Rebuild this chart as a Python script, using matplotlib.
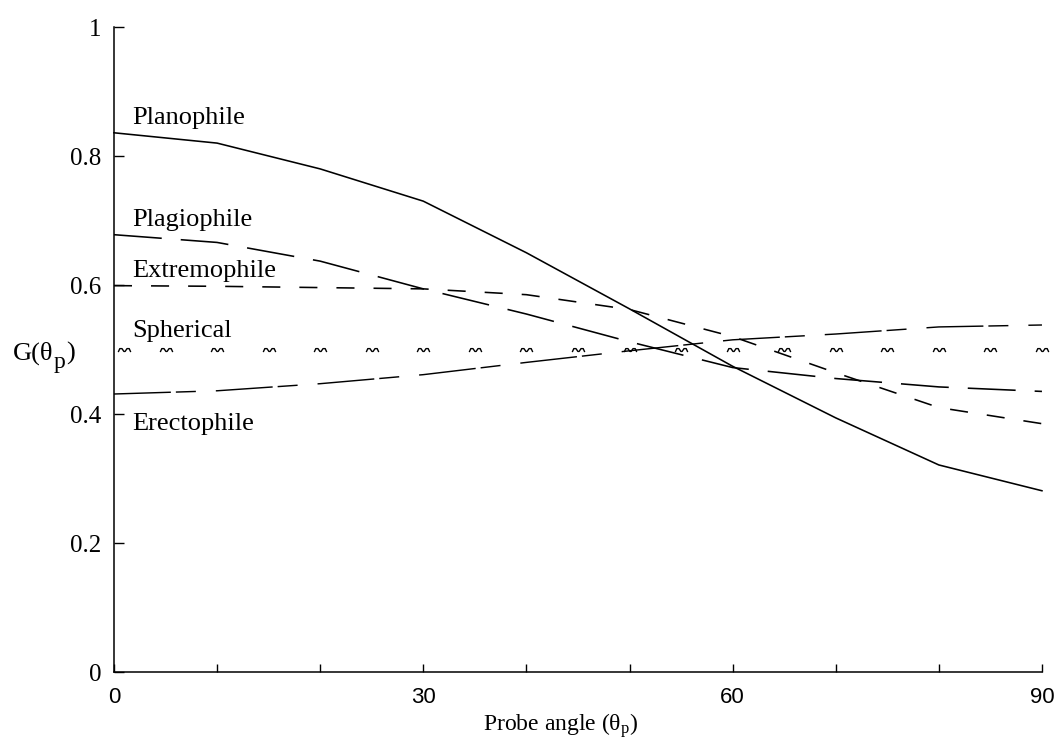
import matplotlib
matplotlib.use('Agg')
import matplotlib.pyplot as plt
from matplotlib.path import Path
from matplotlib.transforms import offset_copy

# ---- data ----
angles = [0, 10, 20, 30, 40, 50, 60, 70, 80, 90]
planophile = [0.836, 0.820, 0.780, 0.730, 0.650, 0.563, 0.474, 0.394, 0.321, 0.281]
plagiophile = [0.678, 0.666, 0.637, 0.594, 0.555, 0.512, 0.472, 0.455, 0.442, 0.435]
extremophile = [0.599, 0.598, 0.596, 0.594, 0.585, 0.562, 0.520, 0.464, 0.410, 0.385]
erectophile = [0.431, 0.436, 0.447, 0.461, 0.480, 0.498, 0.515, 0.524, 0.535, 0.538]
spherical_x = [1, 5, 10, 15, 20, 25, 30, 35, 40, 45, 50, 55, 60, 65, 70, 75, 80, 85, 90]
spherical = [0.5, 0.5, 0.5, 0.5, 0.5, 0.5, 0.5, 0.5, 0.5, 0.5,
             0.5, 0.5, 0.5, 0.5, 0.5, 0.5, 0.5, 0.5, 0.5]

x_ticks = [0, 10, 20, 30, 40, 50, 60, 70, 80, 90]
x_tick_labels = ['0', '', '', '30', '', '', '60', '', '', '90']
y_ticks = [0, 0.2, 0.4, 0.6, 0.8, 1.0]
y_tick_labels = ['0', '0.2', '0.4', '0.6', '0.8', '1']

labels = ['Planophile', 'Plagiophile', 'Extremophile', 'Spherical', 'Erectophile']
label_y = [0.849, 0.691, 0.613, 0.520, 0.375]

plt.rcParams['font.family'] = ['Liberation Serif', 'DejaVu Serif']
plt.rcParams['mathtext.fontset'] = 'custom'
plt.rcParams['mathtext.rm'] = 'Liberation Serif'
plt.rcParams['mathtext.it'] = 'Liberation Serif:italic'
plt.rcParams['lines.scale_dashes'] = False

fig = plt.figure(figsize=(10.59, 7.48), dpi=100)
ax = fig.add_axes([0.1076, 0.1016, 0.8763, 0.8623])

lw = 1.15
ax.plot(angles, planophile, color='black', lw=lw, clip_on=False)
ax.plot(angles, plagiophile, color='black', lw=lw, dashes=(34.5, 13.7), clip_on=False)
ax.plot(angles, extremophile, color='black', lw=lw, dashes=(13.0, 13.7), clip_on=False)
ax.plot(angles, erectophile, color='black', lw=lw * 0.9, dashes=(41.0, 3.6, 14.4, 14.4), clip_on=False)

wave = Path([(-1.0, -0.25), (-0.75, 0.3), (-0.4, 0.3), (-0.1, -0.15),
             (0.1, -0.15), (0.4, 0.3), (0.75, 0.3), (1.0, -0.25)])
ax.plot(spherical_x, spherical, linestyle='none', marker=wave, markersize=9,
        markerfacecolor='none', markeredgecolor='black', markeredgewidth=1.0, clip_on=False)

for txt, yv in zip(labels, label_y):
    ax.text(1.75, yv, txt, fontsize=19, va='baseline', ha='left')

ax.set_xlim(0, 90)
ax.set_ylim(0, 1)
ax.spines['top'].set_visible(False)
ax.spines['right'].set_visible(False)
for s in ('left', 'bottom'):
    ax.spines[s].set_linewidth(1.1)

ax.set_xticks(x_ticks)
ax.set_xticklabels(x_tick_labels, fontfamily='Liberation Sans', fontsize=16)
ax.set_yticks(y_ticks)
ax.set_yticklabels(y_tick_labels, fontsize=18)
ax.tick_params(axis='x', direction='in', length=6, width=1.0, pad=11)
ax.tick_params(axis='y', direction='in', length=7, width=1.0, pad=9)

# y label "G(θp)" with full-size lowered p
fig.canvas.draw()
renderer = fig.canvas.get_renderer()
t1 = ax.text(-9.8, 0.484, 'G(θ', fontsize=19, va='baseline', ha='left')
w1 = t1.get_window_extent(renderer).width * 72.0 / fig.dpi
t2 = ax.text(-9.8, 0.484, 'p', fontsize=17, va='baseline', ha='left',
             transform=offset_copy(ax.transData, fig=fig, x=w1 + 0.3, y=-6, units='points'))
w2 = t2.get_window_extent(renderer).width * 72.0 / fig.dpi
ax.text(-9.8, 0.484, ')', fontsize=19, va='baseline', ha='left',
        transform=offset_copy(ax.transData, fig=fig, x=w1 + w2 + 0.8, y=0, units='points'))

xl = ax.set_xlabel(r'Probe angle ($\mathregular{\theta_p}$)', fontsize=17, labelpad=1)
ax.xaxis.set_label_coords(0.4817, -0.06)
xl.set_va('top')

fig.savefig('out.png', dpi=100)
